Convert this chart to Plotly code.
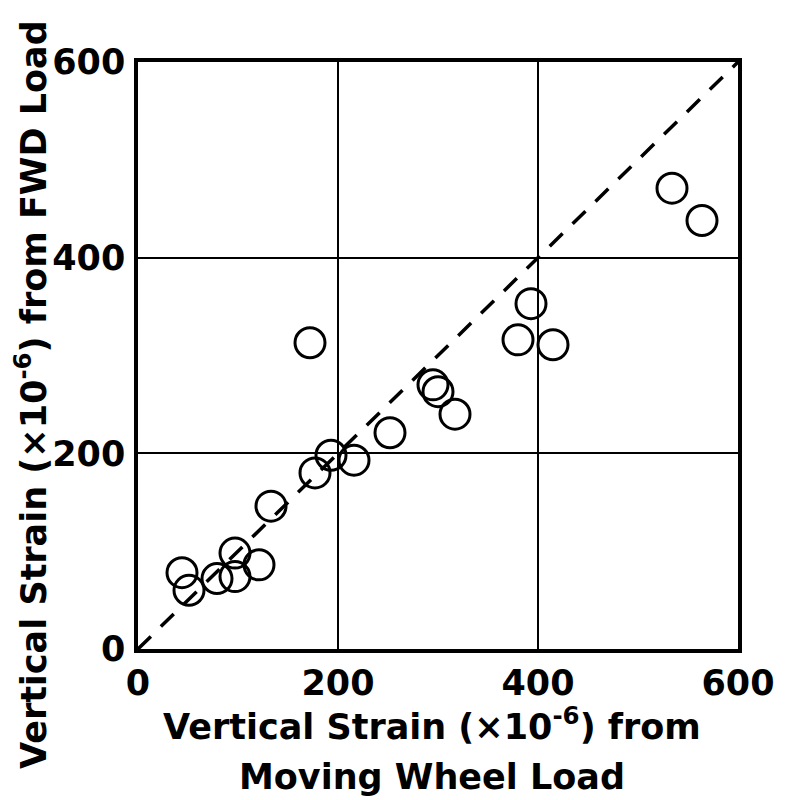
import plotly.graph_objects as go

# Data (strain x 1e-6)
moving_wheel = [534, 564, 393, 380, 415, 295, 300, 317, 252, 172,
                216, 193, 177, 133, 97, 121, 97, 79, 44, 51]
fwd_load = [471, 438, 353, 316, 311, 270, 263, 240, 221, 313,
            193, 198, 180, 146, 98, 86, 74, 72, 78, 60]
equality_line = [0, 600]
tick_vals = [0, 200, 400, 600]
tick_text = ["0", "200", "400", "600"]
x_title_lines = ["Vertical Strain (×10<sup>-6</sup>) from", "Moving Wheel Load"]
y_title = "Vertical Strain (×10<sup>-6</sup>) from FWD Load"

fig = go.Figure()
fig.add_trace(go.Scatter(
    x=equality_line, y=equality_line, mode="lines",
    line=dict(color="black", width=3.5, dash="18px,14px"),
    hoverinfo="skip", showlegend=False))
fig.add_trace(go.Scatter(
    x=moving_wheel, y=fwd_load, mode="markers",
    marker=dict(symbol="circle-open", size=30, color="black",
                line=dict(color="black", width=3)),
    showlegend=False))

tick_font = dict(family="DejaVu Sans", size=35, color="black", weight="bold")
x_title_font = dict(family="DejaVu Sans", size=35, color="black", weight="bold")
y_title_font = dict(family="DejaVu Sans", size=35, color="black", weight="bold")

axis_common = dict(
    range=[0, 600], tickvals=tick_vals, ticktext=tick_text,
    showgrid=True, gridcolor="black", gridwidth=1.5,
    showline=True, linecolor="black", linewidth=3.5, mirror=True,
    ticks="", zeroline=False, tickfont=tick_font,
)
fig.update_xaxes(**axis_common)
fig.update_yaxes(**axis_common, ticklabelstandoff=2)

# axis titles as annotations for exact placement
fig.add_annotation(text=x_title_lines[0], xref="paper", yref="paper",
                   x=0.49, y=-0.127, xanchor="center", yanchor="middle",
                   showarrow=False, font=x_title_font)
fig.add_annotation(text=x_title_lines[1], xref="paper", yref="paper",
                   x=0.49, y=-0.218, xanchor="center", yanchor="middle",
                   showarrow=False, font=x_title_font)
fig.add_annotation(text=y_title, xref="paper", yref="paper",
                   x=-0.178, y=0.433, xanchor="center", yanchor="middle",
                   textangle=-90, showarrow=False, font=y_title_font)

fig.update_layout(
    width=787, height=800,
    margin=dict(l=138, r=42, t=62, b=151),
    plot_bgcolor="white", paper_bgcolor="white",
    font=dict(family="DejaVu Sans", color="black"),
)

fig.write_html("out.html")
